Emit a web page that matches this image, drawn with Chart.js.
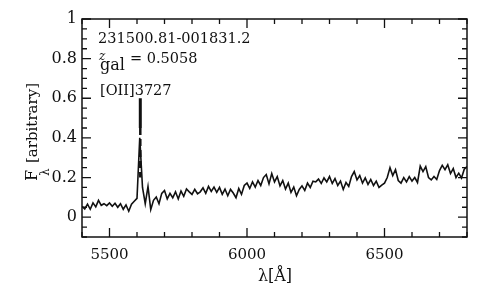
<!DOCTYPE html>
<html>
<head>
<meta charset="utf-8">
<script src="https://cdn.jsdelivr.net/npm/chart.js@4/dist/chart.umd.min.js"></script>
<style>
  html,body{margin:0;padding:0;background:#fff;}
  canvas{display:block;}
</style>
</head>
<body>
<canvas id="chart" width="497" height="294"></canvas>
<script>
// spectrum
const wavelength = [
  5400,5410,5420,5430,5440,5450,5460,5470,5480,5490,
  5500,5510,5520,5530,5540,5550,5560,5570,5580,5590,
  5600,5610,5620,5630,5640,5650,5660,5670,5680,5690,
  5700,5710,5720,5730,5740,5750,5760,5770,5780,5790,
  5800,5810,5820,5830,5840,5850,5860,5870,5880,5890,
  5900,5910,5920,5930,5940,5950,5960,5970,5980,5990,
  6000,6010,6020,6030,6040,6050,6060,6070,6080,6090,
  6100,6110,6120,6130,6140,6150,6160,6170,6180,6190,
  6200,6210,6220,6230,6240,6250,6260,6270,6280,6290,
  6300,6310,6320,6330,6340,6350,6360,6370,6380,6390,
  6400,6410,6420,6430,6440,6450,6460,6470,6480,6490,
  6500,6510,6520,6530,6540,6550,6560,6570,6580,6590,
  6600,6610,6620,6630,6640,6650,6660,6670,6680,6690,
  6700,6710,6720,6730,6740,6750,6760,6770,6780,6790,
  6800
];
const flux = [
  .055,.042,.066,.040,.072,.052,.085,.060,.068,.058,
  .072,.055,.070,.050,.068,.040,.062,.030,.065,.080,
  .095,.400,.150,.068,.155,.038,.085,.102,.068,.120,
  .135,.092,.120,.098,.128,.092,.132,.105,.142,.128,
  .115,.140,.118,.128,.148,.120,.155,.130,.152,.125,
  .150,.115,.142,.108,.140,.122,.098,.145,.115,.160,
  .172,.145,.178,.152,.185,.160,.200,.215,.168,.220,
  .178,.205,.158,.185,.142,.172,.125,.152,.108,.140,
  .158,.135,.172,.150,.182,.178,.192,.170,.198,.178,
  .205,.170,.195,.160,.182,.140,.175,.155,.205,.230,
  .188,.210,.172,.198,.165,.190,.160,.182,.150,.162,
  .172,.200,.250,.210,.240,.185,.172,.200,.178,.205,
  .182,.200,.175,.258,.230,.255,.200,.188,.205,.190,
  .235,.262,.240,.265,.220,.245,.200,.222,.198,.242,
  .255
];

// [OII]3727 line marker
const markerX = [5612, 5612];
const markerSolid = [0.60, 0.45];
const markerDashed = [0.45, 0.20];

// axis ticks
const xMajor = [5500, 6000, 6500];
const xMinor = [5400,5600,5700,5800,5900,6100,6200,6300,6400,6600,6700,6800];
const yMajor = [0, 0.2, 0.4, 0.6, 0.8, 1];
const yMinor = [-0.1,-0.05,0.05,0.1,0.15,0.25,0.3,0.35,0.45,0.5,0.55,0.65,0.7,0.75,0.85,0.9,0.95];

const SERIF = "'DejaVu Serif', 'Liberation Serif', serif";
const INK = "#111";

function pts(xs, ys){ return xs.map((x,i)=>({x:x, y:ys[i]})); }

// box, inward ticks and free text
const frame = {
  id:"frame",
  beforeDraw(c){
    const ctx = c.ctx;
    ctx.save();
    ctx.fillStyle = "#fff";
    ctx.fillRect(0,0,c.width,c.height);
    ctx.restore();
  },
  afterDraw(c){
    const ctx = c.ctx, a = c.chartArea;
    const xs = c.scales.x, ys = c.scales.y;
    ctx.save();
    ctx.strokeStyle = INK;
    ctx.lineWidth = 1.5;
    ctx.strokeRect(a.left, a.top, a.right-a.left, a.bottom-a.top);

    function tickX(v, len){
      const p = xs.getPixelForValue(v);
      ctx.beginPath();
      ctx.moveTo(p, a.bottom); ctx.lineTo(p, a.bottom-len);
      ctx.moveTo(p, a.top); ctx.lineTo(p, a.top+len);
      ctx.stroke();
    }
    function tickY(v, len){
      const p = ys.getPixelForValue(v);
      ctx.beginPath();
      ctx.moveTo(a.left, p); ctx.lineTo(a.left+len, p);
      ctx.moveTo(a.right, p); ctx.lineTo(a.right-len, p);
      ctx.stroke();
    }
    ctx.lineWidth = 1.3;
    xMajor.forEach(v=>tickX(v, 9));
    xMinor.forEach(v=>tickX(v, 5));
    yMajor.forEach(v=>tickY(v, 9));
    yMinor.forEach(v=>tickY(v, 5));

    // labels inside the box
    ctx.fillStyle = INK;
    ctx.textBaseline = "alphabetic";
    ctx.textAlign = "left";
    ctx.font = "14.5px " + SERIF;
    ctx.fillText("231500.81-001831.2", 98, 43);
    ctx.font = "italic 12px " + SERIF;
    ctx.fillText("z", 99, 60);
    ctx.font = "16px " + SERIF;
    ctx.fillText("gal", 100, 70);
    ctx.font = "14.5px " + SERIF;
    ctx.fillText("= 0.5058", 130, 63);
    ctx.fillText("[OII]3727", 100, 95);

    // x title
    ctx.font = "16px " + SERIF;
    ctx.textAlign = "center";
    ctx.fillText("λ[Å]", 275, 281);

    // y title, rotated
    ctx.translate(37, 181);
    ctx.rotate(-Math.PI/2);
    ctx.textAlign = "left";
    ctx.font = "16px " + SERIF;
    ctx.fillText("F", 0, 0);
    ctx.font = "12px " + SERIF;
    ctx.fillText("λ", 5, 12);
    ctx.font = "15px " + SERIF;
    ctx.fillText("[arbitrary]", 18, 0);
    ctx.restore();
  }
};

new Chart(document.getElementById("chart"), {
  type:"line",
  data:{
    datasets:[{
      data: pts(wavelength, flux),
      borderColor: INK,
      borderWidth: 1.6,
      pointRadius: 0,
      tension: 0
    },{
      data: pts(markerX, markerSolid),
      borderColor: INK,
      borderWidth: 3,
      pointRadius: 0
    },{
      data: pts(markerX, markerDashed),
      borderColor: INK,
      borderWidth: 2.5,
      borderDash: [7,4],
      pointRadius: 0
    }]
  },
  options:{
    responsive:false,
    animation:false,
    devicePixelRatio:1,
    layout:{padding:{left:0, right:30, top:19, bottom:0}},
    plugins:{legend:{display:false}, tooltip:{enabled:false}},
    scales:{
      x:{
        type:"linear", min:5400, max:6800,
        afterBuildTicks(s){ s.ticks = xMajor.map(v=>({value:v})); },
        afterFit(s){ s.height = 57; },
        grid:{display:false, drawTicks:false},
        border:{display:false},
        ticks:{
          padding:9, color:INK,
          font:{family:SERIF, size:15},
          callback:v=>String(v)
        }
      },
      y:{
        type:"linear", min:-0.1, max:1.0,
        afterBuildTicks(s){ s.ticks = yMajor.map(v=>({value:v})); },
        afterFit(s){ s.width = 82; },
        grid:{display:false, drawTicks:false},
        border:{display:false},
        ticks:{
          padding:5, color:INK,
          font:{family:SERIF, size:16},
          callback:v=>String(Math.round(v*10)/10)
        }
      }
    }
  },
  plugins:[frame]
});
</script>
</body>
</html>
